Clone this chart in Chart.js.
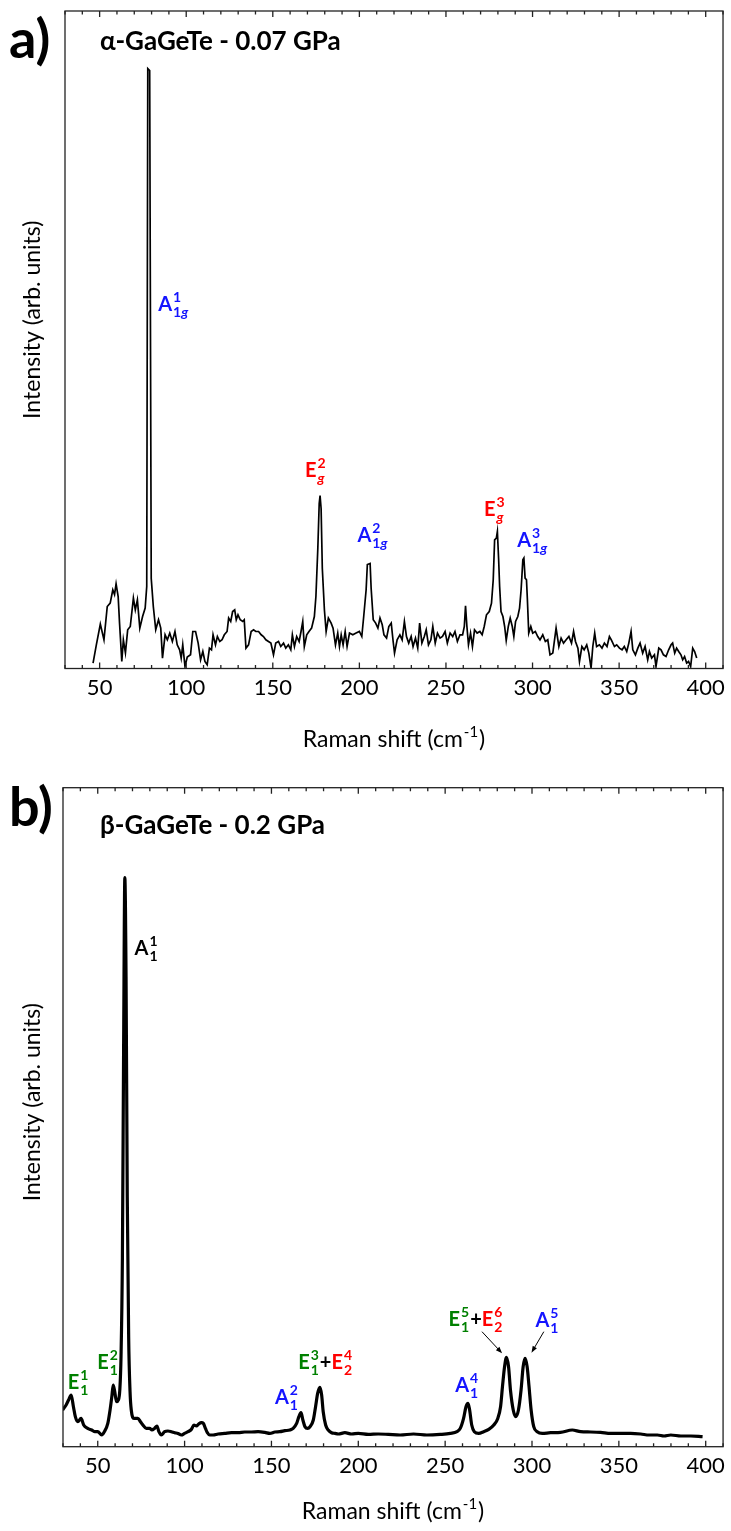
<!DOCTYPE html>
<html>
<head>
<meta charset="utf-8">
<script src="https://cdn.jsdelivr.net/npm/chart.js@4.4.1/dist/chart.umd.min.js"></script>
<style>
body{margin:0;background:#fff;}
canvas{display:block;}
</style>
</head>
<body>
<canvas id="chartA" width="731" height="760"></canvas>
<canvas id="chartB" width="731" height="771"></canvas>
<script>
// ---- data ----
const xTicks = [50, 100, 150, 200, 250, 300, 350, 400];

// a) alpha-GaGeTe, 0.07 GPa
const ramanA = [46.2,48.1,50.4,52.5,54.4,56.1,57.6,58.6,59.5,60.7,61.5,62.8,63.7,64.9,66.2,67.7,69.5,70.6,71.8,73.2,74.8,76.3,77.2,77.8,78.9,79.8,81.0,82.4,84.0,85.3,86.3,87.8,89.1,90.5,92.0,93.5,94.8,96.2,97.1,98.0,99.3,100.6,102.5,103.8,105.4,106.9,108.3,109.6,110.8,112.1,113.4,114.6,115.5,116.9,118.0,119.4,120.7,122.0,123.6,124.5,125.7,126.8,128.0,128.9,129.9,131.2,132.6,133.5,134.5,136.0,137.5,138.9,140.2,141.8,143.3,144.6,146.0,147.5,148.9,150.4,151.7,153.3,154.6,156.2,157.5,159.0,160.4,161.3,162.5,163.8,165.2,166.3,167.3,168.2,169.6,170.9,172.4,174.0,174.9,176.0,176.8,177.3,177.9,178.6,179.8,180.8,182.1,183.7,184.8,186.2,187.5,188.5,189.5,190.6,191.8,192.9,194.3,196.2,198.1,200.0,201.4,202.5,203.9,204.6,206.2,206.8,208.0,209.4,210.7,211.9,213.2,214.2,215.7,217.0,218.4,219.5,220.3,221.8,223.4,224.7,226.0,227.2,228.5,229.9,231.0,232.4,233.7,234.8,236.1,237.5,238.6,239.9,241.3,242.4,243.8,245.1,246.6,248.0,249.5,250.8,252.4,253.9,255.2,256.6,258.1,259.6,260.6,261.3,262.1,263.0,264.2,265.3,266.5,268.0,269.6,270.9,272.1,273.4,275.0,276.3,277.3,278.1,279.1,279.7,280.4,281.0,281.8,282.9,283.9,284.8,286.0,287.1,288.3,289.2,290.2,291.5,292.5,293.4,294.4,295.0,295.7,296.5,297.0,297.8,299.0,300.1,301.6,303.0,304.3,305.9,307.4,308.8,310.1,311.7,313.6,315.2,316.5,317.9,319.4,321.0,322.5,323.7,324.8,326.2,327.1,328.5,329.8,331.3,332.5,333.8,334.8,335.9,337.0,338.6,340.1,341.5,343.0,344.4,345.5,347.3,348.6,350.2,351.7,353.0,354.4,355.6,356.9,357.9,359.4,360.8,362.1,363.6,365.0,366.5,367.5,368.8,370.4,371.3,372.9,374.2,375.6,377.1,378.6,380.0,380.9,382.1,383.2,384.4,385.7,386.7,387.8,389.0,390.1,391.3,392.5,393.6,394.8];
const intensityA = [5.4,23.7,44.4,28.7,62,65.4,78.7,74,84.7,72,45.4,7,28.7,15.7,38.7,42,70.4,58.7,68.7,40.4,52,60.4,82,600,598,90,62,38.7,48.7,40.4,10.4,33.7,28.7,35.4,27,37,23.7,18.7,10.4,23.7,2,11.4,13.7,37,37,25.4,8.7,17,7,3.7,20.4,18.7,33.7,23.7,32,27,28.7,33.7,37,50.4,47,57,58.7,48.7,53.7,48.7,47,48.7,20.4,23.7,37,38.7,37,37,33.7,32,28.7,27,25.4,13.7,25.4,27,22,25.4,20.4,23.7,18.7,33.7,22,32,27,37,47,22,33.7,37,40.4,52,72,120,165,173,160,100,58.7,37,50.4,45.4,40.4,23.7,35.4,22,33.7,23.7,37,22,35.4,33.7,35.4,37,32,52,78.7,104,105,80,48.7,45.4,40.4,50.4,43.7,33.7,30.4,42,45.4,27,15.4,28.7,33.7,28.7,47,32,25.4,32,22,30.4,20.4,45.4,25.4,32,38.7,23.7,28.7,42,25.4,35.4,30.4,32,37,25.4,35.4,32,37,27,33.7,33.7,42,62.7,42,23.7,35.4,22,38.7,35.4,37,33.7,42,53.7,57,65.4,88.7,128.7,130.4,137,110,82,57,52,42,28,42,50.4,42,32,47,52,60.4,78.7,108.7,110.4,90.4,88.7,70,35.4,42,35.4,37,32,28.7,33.7,27,28.7,13.7,15.4,40.4,22,30.4,25.4,28.7,32,25.4,37,27,20.4,7,22,18.7,23.7,15.4,0.4,22,35.4,22,23.7,20.4,25.4,22,32,28.7,22,23.7,20.4,18.7,22,17,25.4,37,18.7,13.7,20.4,25.4,15.4,22,8.7,17,10.4,13.7,2,20.4,18.7,13.7,12,18.7,23.7,25.4,15.4,20.4,17,13.7,8.7,12,5.4,7,2,20.4,17,10.4];

// b) beta-GaGeTe, 0.2 GPa
const ramanB = [29.8,31.8,33.2,34.7,36.0,37.1,38.5,40.4,41.9,44.2,46.5,48.4,50.0,52.3,53.8,55.8,57.1,58.1,58.9,59.8,60.8,61.9,62.7,63.4,64.2,64.9,65.6,66.3,67.0,67.8,68.6,69.3,70.8,73.1,74.6,76.0,77.9,79.9,81.2,82.7,84.1,85.2,86.6,88.5,90.4,92.4,94.3,96.2,98.1,100.0,102.0,103.9,105.4,106.8,108.1,109.7,110.8,112.0,113.1,114.5,116.4,119.3,123.1,127.0,130.8,134.6,138.5,142.3,146.2,149.1,152.0,154.8,157.7,160.6,162.5,164.5,165.8,167.0,168.1,169.3,170.8,172.2,174.1,175.4,176.6,177.9,178.9,179.8,181.2,182.7,184.6,186.6,188.5,192.3,196.2,200.0,205.8,211.5,217.3,224.1,231.8,239.5,247.2,253.0,256.8,258.7,260.6,262.0,263.2,264.1,265.3,266.8,269.3,272.2,275.1,278.0,280.3,281.9,283.0,284.2,285.3,286.5,287.6,289.2,290.6,292.2,293.7,294.9,296.0,297.2,298.3,299.5,301.0,303.0,305.9,310.7,316.4,323.2,328.0,333.8,339.5,345.3,351.1,356.8,362.6,367.4,372.2,376.0,379.9,385.7,391.4,398.2];
const intensityB = [36.7,41.7,46.7,51.7,40,30,25,28.3,21.7,18.3,16.7,15,15,11.7,15,23.3,36.7,50,61.7,55,45,46.7,56.7,90,190,400,569,470,250,110,55,36.7,28.3,28.3,25,21.7,18.3,18.3,16.7,18.3,20.7,15,11.7,15,15.7,15,14,13.3,11.7,13.3,15,17.3,21.7,20.7,22.7,24,23.3,18.3,14,11.7,11.7,12.7,13.3,14,14,14.7,14.7,15,14.3,13.3,14.7,15,16,16.7,18.3,23.3,30,34,26.7,20,18.3,20,26.7,40,53.3,59.3,51.7,35,21.7,16.7,14,13.3,12.7,14,12.7,13.3,12.3,12.7,12.3,11.7,12.7,11.7,12.3,13.3,15,18.3,28.3,40,43.3,36.7,21.7,15,13.3,15,17.3,21.7,28.3,40,60,80,89.3,80,56.7,36.7,30,36.7,56.7,80,88.3,80,60,36.7,20,15,13.3,14,14.3,16.7,15,14.7,14.3,13.3,13.3,13.3,12.7,11.7,11.7,10.7,11.7,10.7,10.7,10];

const blue = 'rgb(20,20,255)', red = 'rgb(255,0,0)', green = 'rgb(0,128,0)', black = '#000';

// mode labels: [x (cm-1), y (intensity), parts]
const modesA = [
  [83.8, 358, [{t:'A', sup:'1', sub:'1g', c:blue}]],
  [168.6, 192, [{t:'E', sup:'2', sub:'g', c:red}]],
  [198.9, 127, [{t:'A', sup:'2', sub:'1g', c:blue}]],
  [272.0, 153, [{t:'E', sup:'3', sub:'g', c:red}]],
  [291.1, 122, [{t:'A', sup:'3', sub:'1g', c:blue}]]
];
const modesB = [
  [32.7, 58, [{t:'E', sup:'1', sub:'1', c:green}]],
  [49.7, 78, [{t:'E', sup:'2', sub:'1', c:green}]],
  [71.2, 492, [{t:'A', sup:'1', sub:'1', c:black}]],
  [152.0, 43, [{t:'A', sup:'2', sub:'1', c:blue}]],
  [165.4, 78, [{t:'E', sup:'3', sub:'1', c:green}, {t:'+', c:black}, {t:'E', sup:'4', sub:'2', c:red}]],
  [255.8, 55, [{t:'A', sup:'4', sub:'1', c:blue}]],
  [252.0, 121, [{t:'E', sup:'5', sub:'1', c:green}, {t:'+', c:black}, {t:'E', sup:'6', sub:'2', c:red}]],
  [302.0, 120, [{t:'A', sup:'5', sub:'1', c:blue}]]
];
// arrows: from (x1,y1) to (x2,y2) in data units
const arrowsB = [
  [271.2, 115, 282.8, 93.4],
  [306.8, 115, 299.7, 94]
];

const FONT = 'Lato';

function drawMode(ctx, x, y, parts) {
  ctx.textBaseline = 'alphabetic';
  ctx.textAlign = 'left';
  parts.forEach(function (p) {
    ctx.fillStyle = p.c;
    ctx.font = 'bold 20px ' + FONT;
    ctx.fillText(p.t, x, y);
    x += ctx.measureText(p.t).width;
    if (p.sup || p.sub) {
      ctx.font = 'bold 14px ' + FONT;
      var wSup = 0, wSub = 0;
      if (p.sup) { ctx.fillText(p.sup, x + 1, y - 9); wSup = ctx.measureText(p.sup).width; }
      if (p.sub) {
        var sx = x + 1;
        for (var i = 0; i < p.sub.length; i++) {
          var ch = p.sub[i];
          ctx.font = (ch === 'g' ? 'italic ' : '') + 'bold 14px ' + FONT;
          ctx.fillText(ch, sx, y + 6);
          sx += ctx.measureText(ch).width;
        }
        wSub = sx - x - 1;
      }
      x += Math.max(wSup, wSub) + 2;
    }
  });
}

function drawArrow(ctx, x1, y1, x2, y2) {
  var ang = Math.atan2(y2 - y1, x2 - x1), hl = 7;
  ctx.strokeStyle = '#000'; ctx.fillStyle = '#000'; ctx.lineWidth = 1;
  ctx.beginPath(); ctx.moveTo(x1, y1); ctx.lineTo(x2 - hl * 0.6 * Math.cos(ang), y2 - hl * 0.6 * Math.sin(ang)); ctx.stroke();
  ctx.beginPath();
  ctx.moveTo(x2, y2);
  ctx.lineTo(x2 - hl * Math.cos(ang - 0.35), y2 - hl * Math.sin(ang - 0.35));
  ctx.lineTo(x2 - hl * Math.cos(ang + 0.35), y2 - hl * Math.sin(ang + 0.35));
  ctx.closePath(); ctx.fill();
}

// frame, inward ticks, titles and peak labels
const decor = {
  id: 'decor',
  afterDraw(chart, args, opts) {
    const ctx = chart.ctx, a = chart.chartArea, xs = chart.scales.x, ys = chart.scales.y;
    ctx.save();
    ctx.strokeStyle = '#222';
    ctx.lineWidth = 1.3;
    ctx.strokeRect(a.left, a.top, a.right - a.left, a.bottom - a.top);
    for (let v = xs.min; v <= xs.max; v += 10) {
      const px = xs.getPixelForValue(v);
      const len = v % 50 === 0 ? 6 : 3.5;
      ctx.beginPath();
      ctx.moveTo(px, a.bottom); ctx.lineTo(px, a.bottom - len);
      ctx.moveTo(px, a.top); ctx.lineTo(px, a.top + len);
      ctx.stroke();
    }

    // x title with superscript
    ctx.fillStyle = '#000';
    ctx.textBaseline = 'alphabetic';
    ctx.textAlign = 'left';
    ctx.font = '23px ' + FONT;
    const t1 = 'Raman shift (cm', t3 = ')';
    const w1 = ctx.measureText(t1).width, w3 = ctx.measureText(t3).width;
    ctx.font = '15px ' + FONT;
    const w2 = ctx.measureText('-1').width;
    let tx = (a.left + a.right) / 2 - (w1 + w2 + w3 + 2) / 2;
    const ty = a.bottom + opts.xTitleGap;
    ctx.font = '23px ' + FONT;
    ctx.fillText(t1, tx, ty);
    ctx.font = '15px ' + FONT;
    ctx.fillText('-1', tx + w1 + 1, ty - 10);
    ctx.font = '23px ' + FONT;
    ctx.fillText(t3, tx + w1 + w2 + 2, ty);

    // y title
    ctx.save();
    ctx.translate(33, (a.top + a.bottom) / 2 + opts.yTitleShift);
    ctx.rotate(-Math.PI / 2);
    ctx.textAlign = 'center';
    ctx.textBaseline = 'middle';
    ctx.font = '23px ' + FONT;
    ctx.fillText('Intensity (arb. units)', 0, 0);
    ctx.restore();

    // panel letter and heading
    ctx.font = 'bold 54px ' + FONT;
    ctx.fillText(opts.letter, 9, a.top + opts.letterY);
    ctx.font = 'bold 26px ' + FONT;
    ctx.fillText(opts.heading, 100, a.top + opts.headingY);

    opts.modes.forEach(function (m) {
      drawMode(ctx, xs.getPixelForValue(m[0]), ys.getPixelForValue(m[1]), m[2]);
    });
    (opts.arrows || []).forEach(function (r) {
      drawArrow(ctx, xs.getPixelForValue(r[0]), ys.getPixelForValue(r[1]), xs.getPixelForValue(r[2]), ys.getPixelForValue(r[3]));
    });
    ctx.restore();
  }
};

function makeChart(id, xs, ys, cfg) {
  const pts = xs.map(function (x, i) { return {x: x, y: ys[i]}; });
  return new Chart(document.getElementById(id), {
    type: 'line',
    data: {
      datasets: [{
        data: pts,
        borderColor: '#000',
        borderWidth: cfg.lineWidth,
        pointRadius: 0,
        fill: false,
        cubicInterpolationMode: cfg.smooth ? 'monotone' : 'default',
        tension: 0
      }]
    },
    options: {
      responsive: false,
      animation: false,
      layout: {padding: {top: cfg.top, right: 6, left: 0, bottom: 0}},
      plugins: {
        legend: {display: false},
        tooltip: {enabled: false},
        decor: cfg.decor
      },
      scales: {
        x: {
          type: 'linear',
          min: 30,
          max: 410,
          afterBuildTicks: function (s) { s.ticks = xTicks.map(function (v) { return {value: v}; }); },
          afterFit: function (s) { s.height = cfg.xHeight; },
          grid: {display: false, drawTicks: false},
          border: {display: false},
          ticks: {color: '#000', font: {family: FONT, size: 22}, padding: 6, maxRotation: 0}
        },
        y: {
          min: 0,
          max: cfg.yMax,
          afterFit: function (s) { s.width = cfg.yWidth; },
          grid: {display: false, drawTicks: false},
          border: {display: false},
          ticks: {display: false}
        }
      }
    },
    plugins: [decor]
  });
}

makeChart('chartA', ramanA, intensityA, {
  lineWidth: 1.7, smooth: false, top: 11, xHeight: 91.5, yWidth: 65, yMax: 657.5,
  decor: {letter: 'a)', heading: '\u03b1-GaGeTe - 0.07 GPa', letterY: 47, headingY: 39, modes: modesA, xTitleGap: 78, yTitleShift: -20}
});
makeChart('chartB', ramanB, intensityB, {
  lineWidth: 3.2, smooth: true, top: 27.7, xHeight: 84.3, yWidth: 63, yMax: 659,
  decor: {letter: 'b)', heading: '\u03b2-GaGeTe - 0.2 GPa', letterY: 38, headingY: 46, modes: modesB, arrows: arrowsB, xTitleGap: 72, yTitleShift: -15}
});
</script>
</body>
</html>
